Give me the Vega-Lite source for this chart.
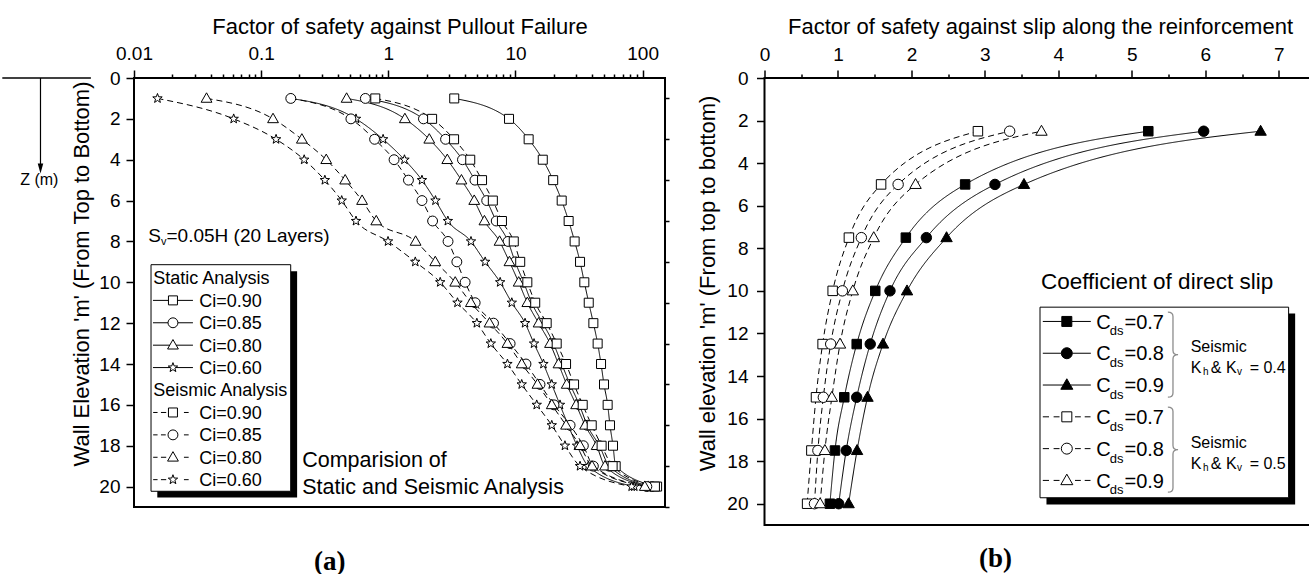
{
"$schema": "https://vega.github.io/schema/vega-lite/v6.json",
"padding": {"left": 0, "top": 14, "right": 0, "bottom": 0},
"spacing": 8.5,
"config": {
  "font": "Liberation Sans",
  "view": {"stroke": "black", "strokeWidth": 2},
  "axis": {"domain": false, "grid": false, "labelFlush": false, "labelOverlap": false, "tickColor": "black", "tickWidth": 1.5, "labelColor": "black", "titleColor": "black", "labelFont": "Liberation Sans", "titleFont": "Liberation Sans", "labelFontSize": 19, "titleFontSize": 22, "titleFontWeight": "normal"},
  "text": {"font": "Liberation Sans", "color": "black"}
},
"datasets": {
  "pullout": [
    {"a":"S","ci":"0.90","z":1,"fs":3.3},{"a":"S","ci":"0.90","z":2,"fs":8.9},{"a":"S","ci":"0.90","z":3,"fs":12.7},{"a":"S","ci":"0.90","z":4,"fs":16.4},{"a":"S","ci":"0.90","z":5,"fs":19.8},{"a":"S","ci":"0.90","z":6,"fs":23.1},{"a":"S","ci":"0.90","z":7,"fs":26.2},{"a":"S","ci":"0.90","z":8,"fs":29.2},{"a":"S","ci":"0.90","z":9,"fs":32.2},{"a":"S","ci":"0.90","z":10,"fs":34.8},{"a":"S","ci":"0.90","z":11,"fs":37.7},{"a":"S","ci":"0.90","z":12,"fs":41.0},{"a":"S","ci":"0.90","z":13,"fs":44.3},{"a":"S","ci":"0.90","z":14,"fs":47.1},{"a":"S","ci":"0.90","z":15,"fs":49.7},{"a":"S","ci":"0.90","z":16,"fs":53.1},{"a":"S","ci":"0.90","z":17,"fs":55.4},{"a":"S","ci":"0.90","z":18,"fs":58.5},{"a":"S","ci":"0.90","z":19,"fs":61.4},{"a":"S","ci":"0.90","z":20,"fs":130},
    {"a":"S","ci":"0.85","z":1,"fs":0.66},{"a":"S","ci":"0.85","z":2,"fs":1.89},{"a":"S","ci":"0.85","z":3,"fs":2.82},{"a":"S","ci":"0.85","z":4,"fs":3.83},{"a":"S","ci":"0.85","z":5,"fs":4.8},{"a":"S","ci":"0.85","z":6,"fs":5.94},{"a":"S","ci":"0.85","z":7,"fs":7.06},{"a":"S","ci":"0.85","z":8,"fs":8.74},{"a":"S","ci":"0.85","z":9,"fs":9.94},{"a":"S","ci":"0.85","z":10,"fs":11.6},{"a":"S","ci":"0.85","z":11,"fs":13.4},{"a":"S","ci":"0.85","z":12,"fs":16.4},{"a":"S","ci":"0.85","z":13,"fs":19.9},{"a":"S","ci":"0.85","z":14,"fs":23.1},{"a":"S","ci":"0.85","z":15,"fs":26.9},{"a":"S","ci":"0.85","z":16,"fs":31.8},{"a":"S","ci":"0.85","z":17,"fs":36.7},{"a":"S","ci":"0.85","z":18,"fs":45.7},{"a":"S","ci":"0.85","z":19,"fs":54.7},{"a":"S","ci":"0.85","z":20,"fs":118},
    {"a":"S","ci":"0.80","z":1,"fs":0.47},{"a":"S","ci":"0.80","z":2,"fs":1.35},{"a":"S","ci":"0.80","z":3,"fs":2.1},{"a":"S","ci":"0.80","z":4,"fs":2.91},{"a":"S","ci":"0.80","z":5,"fs":3.76},{"a":"S","ci":"0.80","z":6,"fs":4.74},{"a":"S","ci":"0.80","z":7,"fs":5.7},{"a":"S","ci":"0.80","z":8,"fs":7.5},{"a":"S","ci":"0.80","z":9,"fs":8.97},{"a":"S","ci":"0.80","z":10,"fs":10.6},{"a":"S","ci":"0.80","z":11,"fs":12.4},{"a":"S","ci":"0.80","z":12,"fs":15.2},{"a":"S","ci":"0.80","z":13,"fs":18.7},{"a":"S","ci":"0.80","z":14,"fs":21.8},{"a":"S","ci":"0.80","z":15,"fs":25.3},{"a":"S","ci":"0.80","z":16,"fs":30.0},{"a":"S","ci":"0.80","z":17,"fs":35.3},{"a":"S","ci":"0.80","z":18,"fs":43.5},{"a":"S","ci":"0.80","z":19,"fs":50.6},{"a":"S","ci":"0.80","z":20,"fs":111},
    {"a":"S","ci":"0.60","z":1,"fs":0.171},{"a":"S","ci":"0.60","z":2,"fs":0.557},{"a":"S","ci":"0.60","z":3,"fs":0.91},{"a":"S","ci":"0.60","z":4,"fs":1.34},{"a":"S","ci":"0.60","z":5,"fs":1.84},{"a":"S","ci":"0.60","z":6,"fs":2.35},{"a":"S","ci":"0.60","z":7,"fs":2.94},{"a":"S","ci":"0.60","z":8,"fs":4.47},{"a":"S","ci":"0.60","z":9,"fs":5.78},{"a":"S","ci":"0.60","z":10,"fs":7.58},{"a":"S","ci":"0.60","z":11,"fs":9.36},{"a":"S","ci":"0.60","z":12,"fs":11.9},{"a":"S","ci":"0.60","z":13,"fs":14.0},{"a":"S","ci":"0.60","z":14,"fs":16.6},{"a":"S","ci":"0.60","z":15,"fs":19.3},{"a":"S","ci":"0.60","z":16,"fs":22.4},{"a":"S","ci":"0.60","z":17,"fs":26.0},{"a":"S","ci":"0.60","z":18,"fs":30.5},{"a":"S","ci":"0.60","z":19,"fs":37.4},{"a":"S","ci":"0.60","z":20,"fs":86},
    {"a":"Q","ci":"0.90","z":1,"fs":0.79},{"a":"Q","ci":"0.90","z":2,"fs":2.21},{"a":"Q","ci":"0.90","z":3,"fs":3.29},{"a":"Q","ci":"0.90","z":4,"fs":4.41},{"a":"Q","ci":"0.90","z":5,"fs":5.46},{"a":"Q","ci":"0.90","z":6,"fs":6.64},{"a":"Q","ci":"0.90","z":7,"fs":7.83},{"a":"Q","ci":"0.90","z":8,"fs":9.7},{"a":"Q","ci":"0.90","z":9,"fs":10.9},{"a":"Q","ci":"0.90","z":10,"fs":12.4},{"a":"Q","ci":"0.90","z":11,"fs":14.3},{"a":"Q","ci":"0.90","z":12,"fs":17.6},{"a":"Q","ci":"0.90","z":13,"fs":21.1},{"a":"Q","ci":"0.90","z":14,"fs":25.0},{"a":"Q","ci":"0.90","z":15,"fs":28.9},{"a":"Q","ci":"0.90","z":16,"fs":33.8},{"a":"Q","ci":"0.90","z":17,"fs":39.8},{"a":"Q","ci":"0.90","z":18,"fs":47.6},{"a":"Q","ci":"0.90","z":19,"fs":58.1},{"a":"Q","ci":"0.90","z":20,"fs":125},
    {"a":"Q","ci":"0.85","z":1,"fs":0.171},{"a":"Q","ci":"0.85","z":2,"fs":0.508},{"a":"Q","ci":"0.85","z":3,"fs":0.78},{"a":"Q","ci":"0.85","z":4,"fs":1.11},{"a":"Q","ci":"0.85","z":5,"fs":1.44},{"a":"Q","ci":"0.85","z":6,"fs":1.84},{"a":"Q","ci":"0.85","z":7,"fs":2.23},{"a":"Q","ci":"0.85","z":8,"fs":2.95},{"a":"Q","ci":"0.85","z":9,"fs":3.46},{"a":"Q","ci":"0.85","z":10,"fs":4.02},{"a":"Q","ci":"0.85","z":11,"fs":4.82},{"a":"Q","ci":"0.85","z":12,"fs":6.72},{"a":"Q","ci":"0.85","z":13,"fs":9.08},{"a":"Q","ci":"0.85","z":14,"fs":12.1},{"a":"Q","ci":"0.85","z":15,"fs":15.6},{"a":"Q","ci":"0.85","z":16,"fs":20.1},{"a":"Q","ci":"0.85","z":17,"fs":26.9},{"a":"Q","ci":"0.85","z":18,"fs":34.2},{"a":"Q","ci":"0.85","z":19,"fs":41.0},{"a":"Q","ci":"0.85","z":20,"fs":108},
    {"a":"Q","ci":"0.80","z":1,"fs":0.0372},{"a":"Q","ci":"0.80","z":2,"fs":0.124},{"a":"Q","ci":"0.80","z":3,"fs":0.209},{"a":"Q","ci":"0.80","z":4,"fs":0.325},{"a":"Q","ci":"0.80","z":5,"fs":0.458},{"a":"Q","ci":"0.80","z":6,"fs":0.622},{"a":"Q","ci":"0.80","z":7,"fs":0.804},{"a":"Q","ci":"0.80","z":8,"fs":1.64},{"a":"Q","ci":"0.80","z":9,"fs":2.34},{"a":"Q","ci":"0.80","z":10,"fs":3.36},{"a":"Q","ci":"0.80","z":11,"fs":4.46},{"a":"Q","ci":"0.80","z":12,"fs":6.25},{"a":"Q","ci":"0.80","z":13,"fs":8.65},{"a":"Q","ci":"0.80","z":14,"fs":11.2},{"a":"Q","ci":"0.80","z":15,"fs":14.9},{"a":"Q","ci":"0.80","z":16,"fs":19.3},{"a":"Q","ci":"0.80","z":17,"fs":25.0},{"a":"Q","ci":"0.80","z":18,"fs":32.2},{"a":"Q","ci":"0.80","z":19,"fs":40.0},{"a":"Q","ci":"0.80","z":20,"fs":104},
    {"a":"Q","ci":"0.60","z":1,"fs":0.0153},{"a":"Q","ci":"0.60","z":2,"fs":0.0608},{"a":"Q","ci":"0.60","z":3,"fs":0.131},{"a":"Q","ci":"0.60","z":4,"fs":0.218},{"a":"Q","ci":"0.60","z":5,"fs":0.317},{"a":"Q","ci":"0.60","z":6,"fs":0.43},{"a":"Q","ci":"0.60","z":7,"fs":0.557},{"a":"Q","ci":"0.60","z":8,"fs":0.995},{"a":"Q","ci":"0.60","z":9,"fs":1.63},{"a":"Q","ci":"0.60","z":10,"fs":2.56},{"a":"Q","ci":"0.60","z":11,"fs":3.5},{"a":"Q","ci":"0.60","z":12,"fs":4.97},{"a":"Q","ci":"0.60","z":13,"fs":6.4},{"a":"Q","ci":"0.60","z":14,"fs":8.65},{"a":"Q","ci":"0.60","z":15,"fs":11.2},{"a":"Q","ci":"0.60","z":16,"fs":14.7},{"a":"Q","ci":"0.60","z":17,"fs":19.3},{"a":"Q","ci":"0.60","z":18,"fs":24.5},{"a":"Q","ci":"0.60","z":19,"fs":32.2},{"a":"Q","ci":"0.60","z":20,"fs":82}
  ],
  "slip": [
    {"k":"0.4","cds":"0.7","z":2.5,"fs":5.224},{"k":"0.4","cds":"0.7","z":5,"fs":2.731},{"k":"0.4","cds":"0.7","z":7.5,"fs":1.924},{"k":"0.4","cds":"0.7","z":10,"fs":1.508},{"k":"0.4","cds":"0.7","z":12.5,"fs":1.255},{"k":"0.4","cds":"0.7","z":15,"fs":1.086},{"k":"0.4","cds":"0.7","z":17.5,"fs":0.959},{"k":"0.4","cds":"0.7","z":20,"fs":0.89},
    {"k":"0.4","cds":"0.8","z":2.5,"fs":5.978},{"k":"0.4","cds":"0.8","z":5,"fs":3.137},{"k":"0.4","cds":"0.8","z":7.5,"fs":2.203},{"k":"0.4","cds":"0.8","z":10,"fs":1.708},{"k":"0.4","cds":"0.8","z":12.5,"fs":1.439},{"k":"0.4","cds":"0.8","z":15,"fs":1.255},{"k":"0.4","cds":"0.8","z":17.5,"fs":1.112},{"k":"0.4","cds":"0.8","z":20,"fs":1.01},
    {"k":"0.4","cds":"0.9","z":2.5,"fs":6.753},{"k":"0.4","cds":"0.9","z":5,"fs":3.532},{"k":"0.4","cds":"0.9","z":7.5,"fs":2.478},{"k":"0.4","cds":"0.9","z":10,"fs":1.94},{"k":"0.4","cds":"0.9","z":12.5,"fs":1.613},{"k":"0.4","cds":"0.9","z":15,"fs":1.402},{"k":"0.4","cds":"0.9","z":17.5,"fs":1.26},{"k":"0.4","cds":"0.9","z":20,"fs":1.145},
    {"k":"0.5","cds":"0.7","z":2.5,"fs":2.905},{"k":"0.5","cds":"0.7","z":5,"fs":1.587},{"k":"0.5","cds":"0.7","z":7.5,"fs":1.149},{"k":"0.5","cds":"0.7","z":10,"fs":0.928},{"k":"0.5","cds":"0.7","z":12.5,"fs":0.791},{"k":"0.5","cds":"0.7","z":15,"fs":0.701},{"k":"0.5","cds":"0.7","z":17.5,"fs":0.638},{"k":"0.5","cds":"0.7","z":20,"fs":0.58},
    {"k":"0.5","cds":"0.8","z":2.5,"fs":3.337},{"k":"0.5","cds":"0.8","z":5,"fs":1.819},{"k":"0.5","cds":"0.8","z":7.5,"fs":1.318},{"k":"0.5","cds":"0.8","z":10,"fs":1.06},{"k":"0.5","cds":"0.8","z":12.5,"fs":0.901},{"k":"0.5","cds":"0.8","z":15,"fs":0.801},{"k":"0.5","cds":"0.8","z":17.5,"fs":0.727},{"k":"0.5","cds":"0.8","z":20,"fs":0.68},
    {"k":"0.5","cds":"0.9","z":2.5,"fs":3.77},{"k":"0.5","cds":"0.9","z":5,"fs":2.056},{"k":"0.5","cds":"0.9","z":7.5,"fs":1.487},{"k":"0.5","cds":"0.9","z":10,"fs":1.202},{"k":"0.5","cds":"0.9","z":12.5,"fs":1.028},{"k":"0.5","cds":"0.9","z":15,"fs":0.917},{"k":"0.5","cds":"0.9","z":17.5,"fs":0.822},{"k":"0.5","cds":"0.9","z":20,"fs":0.757}
  ]
},
"hconcat": [
{
  "width": 531, "height": 429,
  "data": {"values": [{}]},
  "resolve": {"axis": {"x": "independent", "y": "independent"}},
  "layer": [
    {"data": {"name": "pullout"},
     "mark": {"type": "line", "interpolate": "monotone", "strokeWidth": 1, "color": "black"},
     "encoding": {
       "x": {"field": "fs", "type": "quantitative", "scale": {"type": "log", "domain": [0.01, 150], "nice": false},
             "axis": {"orient": "top", "values": [0.01, 0.1, 1, 10, 100], "format": "~g", "tickSize": 8, "labelPadding": 7, "title": "Factor of safety against Pullout Failure", "titleBaseline": "middle", "titleY": -51.5}},
       "y": {"field": "z", "type": "quantitative", "scale": {"domain": [0, 21], "reverse": true, "nice": false},
             "axis": {"values": [0,2,4,6,8,10,12,14,16,18,20], "tickSize": 8, "labelPadding": 6, "title": "Wall Elevation 'm' (From Top to Bottom)", "titleBaseline": "middle", "titleX": -53, "titleY": 195.5}},
       "detail": [{"field": "a"}, {"field": "ci"}],
       "strokeDash": {"field": "a", "type": "nominal", "scale": {"domain": ["S", "Q"], "range": [[1, 0], [6, 4]]}, "legend": null}
     }},
    {"data": {"name": "pullout"},
     "mark": {"type": "point", "filled": true, "fill": "white", "stroke": "black", "strokeWidth": 1, "size": 81, "opacity": 1},
     "encoding": {
       "x": {"field": "fs", "type": "quantitative", "axis": null},
       "y": {"field": "z", "type": "quantitative", "axis": null},
       "shape": {"field": "ci", "type": "nominal", "legend": null, "scale": {"domain": ["0.90", "0.85", "0.80", "0.60"], "range": ["M-1,-1H1V1H-1Z", "M1.1,0A1.1,1.1,0,1,1,-1.1,0A1.1,1.1,0,1,1,1.1,0Z", "M0,-1.25L1.2,0.85H-1.2Z", "M0,-1.1L0.265,-0.364L1.046,-0.34L0.428,0.139L0.647,0.89L0,0.45L-0.647,0.89L-0.428,0.139L-1.046,-0.34L-0.265,-0.364Z"]}}
     }},
    {"mark": {"type": "point", "opacity": 0},
     "encoding": {"x": {"datum": 1, "type": "quantitative", "axis": {"orient": "top", "values": [0.02,0.03,0.04,0.05,0.06,0.07,0.08,0.09,0.2,0.3,0.4,0.5,0.6,0.7,0.8,0.9,2,3,4,5,6,7,8,9,20,30,40,50,60,70,80,90], "tickSize": 4, "labels": false, "title": null}},
                  "y": {"datum": 1, "type": "quantitative", "axis": {"values": [1,3,5,7,9,11,13,15,17,19,21], "tickSize": 4, "labels": false, "title": null}}}},
    {"mark": {"type": "point", "opacity": 0},
     "encoding": {"x": {"datum": 1, "type": "quantitative", "axis": {"orient": "bottom", "ticks": false, "labels": false, "title": "(a)", "titleFont": "Liberation Serif", "titleFontWeight": "bold", "titleFontSize": 27, "titleBaseline": "middle", "titleX": 195.3, "titleY": 54}},
                  "y": {"datum": 1, "type": "quantitative", "axis": null}}},
    {"mark": {"type": "rule", "stroke": "black", "strokeWidth": 1.5},
     "encoding": {"x": {"datum": 0.000921, "type": "quantitative", "axis": null}, "x2": {"datum": 0.004581}, "y": {"datum": 0, "type": "quantitative", "axis": null}}},
    {"mark": {"type": "rule", "stroke": "black", "strokeWidth": 1.2},
     "encoding": {"x": {"datum": 0.001839, "type": "quantitative", "axis": null}, "y": {"datum": 0, "type": "quantitative", "axis": null}, "y2": {"datum": 4.3}}},
    {"mark": {"type": "point", "shape": "M-0.55,-1H0.55L0,1Z", "size": 100, "filled": true, "color": "black", "opacity": 1},
     "encoding": {"x": {"datum": 0.001839, "type": "quantitative", "axis": null}, "y": {"datum": 4.43, "type": "quantitative", "axis": null}}},
    {"mark": {"type": "text", "text": "Z (m)", "fontSize": 16, "align": "center", "baseline": "top"},
     "encoding": {"x": {"datum": 0.001799, "type": "quantitative", "axis": null}, "y": {"datum": 4.6, "type": "quantitative", "axis": null}}},
    {"mark": {"type": "text", "text": "S", "fontSize": 19, "align": "left", "baseline": "top"},
     "encoding": {"x": {"datum": 0.012957, "type": "quantitative", "axis": null}, "y": {"datum": 7.298, "type": "quantitative", "axis": null}}},
    {"mark": {"type": "text", "text": "v", "fontSize": 11, "align": "left", "baseline": "top"},
     "encoding": {"x": {"datum": 0.016307, "type": "quantitative", "axis": null}, "y": {"datum": 7.734, "type": "quantitative", "axis": null}}},
    {"mark": {"type": "text", "text": "=0.05H (20 Layers)", "fontSize": 19, "align": "left", "baseline": "top"},
     "encoding": {"x": {"datum": 0.018014, "type": "quantitative", "axis": null}, "y": {"datum": 7.298, "type": "quantitative", "axis": null}}},
    {"mark": {"type": "text", "text": ["Comparision of", "Static and Seismic Analysis"], "fontSize": 21.5, "lineHeight": 27, "align": "left", "baseline": "top"},
     "encoding": {"x": {"datum": 0.21025, "type": "quantitative", "axis": null}, "y": {"datum": 18.209, "type": "quantitative", "axis": null}}},
    {"mark": {"type": "rect", "color": "black", "opacity": 1},
     "encoding": {"x": {"datum": 0.01525, "type": "quantitative", "axis": null}, "x2": {"datum": 0.1918}, "y": {"datum": 9.46, "type": "quantitative", "axis": null}, "y2": {"datum": 20.54}}},
    {"mark": {"type": "rect", "fill": "white", "stroke": "black", "strokeWidth": 1, "opacity": 1},
     "encoding": {"x": {"datum": 0.01361, "type": "quantitative", "axis": null}, "x2": {"datum": 0.1708}, "y": {"datum": 9.139, "type": "quantitative", "axis": null}, "y2": {"datum": 20.23}}},
    {"mark": {"type": "point", "shape": "M-4.44,0H-1M1,0H4.44M-1,-1H1V1H-1Z", "size": 81, "filled": true, "fill": "white", "stroke": "black", "strokeWidth": 1, "opacity": 1},
     "encoding": {"x": {"datum": 0.02025, "type": "quantitative", "axis": null}, "y": {"datum": 10.886, "type": "quantitative", "axis": null}}},
    {"mark": {"type": "point", "shape": "M-4.44,0H-1.1M1.1,0H4.44M1.1,0A1.1,1.1,0,1,1,-1.1,0A1.1,1.1,0,1,1,1.1,0Z", "size": 81, "filled": true, "fill": "white", "stroke": "black", "strokeWidth": 1, "opacity": 1},
     "encoding": {"x": {"datum": 0.02025, "type": "quantitative", "axis": null}, "y": {"datum": 11.982, "type": "quantitative", "axis": null}}},
    {"mark": {"type": "point", "shape": "M-4.44,0H-0.71M0.71,0H4.44M0,-1.25L1.2,0.85H-1.2Z", "size": 81, "filled": true, "fill": "white", "stroke": "black", "strokeWidth": 1, "opacity": 1},
     "encoding": {"x": {"datum": 0.02025, "type": "quantitative", "axis": null}, "y": {"datum": 13.079, "type": "quantitative", "axis": null}}},
    {"mark": {"type": "point", "shape": "M-4.44,0H-0.61M0.61,0H4.44M0,-1.1L0.265,-0.364L1.046,-0.34L0.428,0.139L0.647,0.89L0,0.45L-0.647,0.89L-0.428,0.139L-1.046,-0.34L-0.265,-0.364Z", "size": 81, "filled": true, "fill": "white", "stroke": "black", "strokeWidth": 1, "opacity": 1},
     "encoding": {"x": {"datum": 0.02025, "type": "quantitative", "axis": null}, "y": {"datum": 14.175, "type": "quantitative", "axis": null}}},
    {"mark": {"type": "point", "shape": "M-4.4,0H-3.42M-2.67,0H-1.5M2.44,0H3.49M-1,-1H1V1H-1Z", "size": 81, "filled": true, "fill": "white", "stroke": "black", "strokeWidth": 1, "opacity": 1},
     "encoding": {"x": {"datum": 0.02025, "type": "quantitative", "axis": null}, "y": {"datum": 16.373, "type": "quantitative", "axis": null}}},
    {"mark": {"type": "point", "shape": "M-4.4,0H-3.42M-2.67,0H-1.6M2.44,0H3.49M1.1,0A1.1,1.1,0,1,1,-1.1,0A1.1,1.1,0,1,1,1.1,0Z", "size": 81, "filled": true, "fill": "white", "stroke": "black", "strokeWidth": 1, "opacity": 1},
     "encoding": {"x": {"datum": 0.02025, "type": "quantitative", "axis": null}, "y": {"datum": 17.469, "type": "quantitative", "axis": null}}},
    {"mark": {"type": "point", "shape": "M-4.4,0H-3.42M-2.67,0H-1.5M2.44,0H3.49M0,-1.25L1.2,0.85H-1.2Z", "size": 81, "filled": true, "fill": "white", "stroke": "black", "strokeWidth": 1, "opacity": 1},
     "encoding": {"x": {"datum": 0.02025, "type": "quantitative", "axis": null}, "y": {"datum": 18.566, "type": "quantitative", "axis": null}}},
    {"mark": {"type": "point", "shape": "M-4.4,0H-3.42M-2.67,0H-1.5M2.44,0H3.49M0,-1.1L0.265,-0.364L1.046,-0.34L0.428,0.139L0.647,0.89L0,0.45L-0.647,0.89L-0.428,0.139L-1.046,-0.34L-0.265,-0.364Z", "size": 81, "filled": true, "fill": "white", "stroke": "black", "strokeWidth": 1, "opacity": 1},
     "encoding": {"x": {"datum": 0.02025, "type": "quantitative", "axis": null}, "y": {"datum": 19.662, "type": "quantitative", "axis": null}}},
    {"mark": {"type": "text", "text": ["Ci=0.90", "Ci=0.85", "Ci=0.80", "Ci=0.60"], "fontSize": 18, "lineHeight": 22.41, "align": "left", "baseline": "top"},
     "encoding": {"x": {"datum": 0.03264, "type": "quantitative", "axis": null}, "y": {"datum": 10.516, "type": "quantitative", "axis": null}}},
    {"mark": {"type": "text", "text": ["Ci=0.90", "Ci=0.85", "Ci=0.80", "Ci=0.60"], "fontSize": 18, "lineHeight": 22.41, "align": "left", "baseline": "top"},
     "encoding": {"x": {"datum": 0.03264, "type": "quantitative", "axis": null}, "y": {"datum": 16.003, "type": "quantitative", "axis": null}}},
    {"mark": {"type": "text", "text": ["Static Analysis", "Seismic Analysis"], "fontSize": 18, "lineHeight": 112.05, "align": "left", "baseline": "top"},
     "encoding": {"x": {"datum": 0.01419, "type": "quantitative", "axis": null}, "y": {"datum": 9.42, "type": "quantitative", "axis": null}}}
  ]
},
{
  "width": 551, "height": 447,
  "data": {"values": [{}]},
  "resolve": {"axis": {"x": "independent", "y": "independent"}},
  "layer": [
    {"data": {"name": "slip"},
     "mark": {"type": "line", "interpolate": "monotone", "strokeWidth": 1, "color": "black"},
     "encoding": {
       "x": {"field": "fs", "type": "quantitative", "scale": {"domain": [0, 7.5], "nice": false},
             "axis": {"orient": "top", "values": [0,1,2,3,4,5,6,7], "tickSize": 8, "labelPadding": 6, "title": "Factor of safety against slip along the reinforcement", "titleBaseline": "middle", "titleY": -52}},
       "y": {"field": "z", "type": "quantitative", "scale": {"domain": [0, 21], "reverse": true, "nice": false},
             "axis": {"values": [0,2,4,6,8,10,12,14,16,18,20], "tickSize": 8, "labelPadding": 8.5, "title": "Wall elevation 'm' (From top to bottom)", "titleBaseline": "middle", "titleX": -57, "titleY": 205}},
       "detail": {"field": "cds"},
       "strokeDash": {"field": "k", "type": "nominal", "scale": {"domain": ["0.4", "0.5"], "range": [[1, 0], [4, 3]]}, "legend": null}
     }},
    {"data": {"name": "slip"},
     "mark": {"type": "point", "filled": true, "stroke": "black", "strokeWidth": 1, "size": 90, "opacity": 1},
     "encoding": {
       "x": {"field": "fs", "type": "quantitative", "axis": null},
       "y": {"field": "z", "type": "quantitative", "axis": null},
       "shape": {"field": "cds", "type": "nominal", "legend": null, "scale": {"domain": ["0.7", "0.8", "0.9"], "range": ["M-1,-1H1V1H-1Z", "M1.1,0A1.1,1.1,0,1,1,-1.1,0A1.1,1.1,0,1,1,1.1,0Z", "M0,-1.25L1.2,0.85H-1.2Z"]}},
       "fill": {"field": "k", "type": "nominal", "legend": null, "scale": {"domain": ["0.4", "0.5"], "range": ["black", "white"]}}
     }},
    {"mark": {"type": "point", "opacity": 0},
     "encoding": {"x": {"datum": 1, "type": "quantitative", "axis": {"orient": "top", "values": [0.5,1.5,2.5,3.5,4.5,5.5,6.5], "tickSize": 4, "labels": false, "title": null}},
                  "y": {"datum": 1, "type": "quantitative", "axis": {"values": [1,3,5,7,9,11,13,15,17,19,21], "tickSize": 4, "labels": false, "title": null}}}},
    {"mark": {"type": "point", "opacity": 0},
     "encoding": {"x": {"datum": 1, "type": "quantitative", "axis": {"orient": "bottom", "ticks": false, "labels": false, "title": "(b)", "titleFont": "Liberation Serif", "titleFontWeight": "bold", "titleFontSize": 27, "titleBaseline": "middle", "titleX": 230.5, "titleY": 33}},
                  "y": {"datum": 1, "type": "quantitative", "axis": null}}},
    {"mark": {"type": "rule", "strokeWidth": 1, "opacity": 0},
     "encoding": {"x": {"datum": -1.1406, "type": "quantitative", "axis": null}, "x2": {"datum": -1.1}, "y": {"datum": 10, "type": "quantitative", "axis": null}}},
    {"mark": {"type": "text", "text": "Coefficient of direct slip", "fontSize": 22.5, "align": "left", "baseline": "top"},
     "encoding": {"x": {"datum": 3.763, "type": "quantitative", "axis": null}, "y": {"datum": 9.046, "type": "quantitative", "axis": null}}},
    {"mark": {"type": "rect", "color": "black", "opacity": 1},
     "encoding": {"x": {"datum": 3.838, "type": "quantitative", "axis": null}, "x2": {"datum": 7.223}, "y": {"datum": 11.063, "type": "quantitative", "axis": null}, "y2": {"datum": 20.04}}},
    {"mark": {"type": "rect", "fill": "white", "stroke": "black", "strokeWidth": 1, "opacity": 1},
     "encoding": {"x": {"datum": 3.75, "type": "quantitative", "axis": null}, "x2": {"datum": 7.134}, "y": {"datum": 10.766, "type": "quantitative", "axis": null}, "y2": {"datum": 19.72}}},
    {"mark": {"type": "point", "shape": "M-4.8,0H-1M1,0H4.8M-1,-1H1V1H-1Z", "size": 100, "filled": true, "fill": "black", "stroke": "black", "strokeWidth": 1, "opacity": 1},
     "encoding": {"x": {"datum": 4.115, "type": "quantitative", "axis": null}, "y": {"datum": 11.437, "type": "quantitative", "axis": null}}},
    {"mark": {"type": "point", "shape": "M-4.8,0H-1.1M1.1,0H4.8M1.1,0A1.1,1.1,0,1,1,-1.1,0A1.1,1.1,0,1,1,1.1,0Z", "size": 100, "filled": true, "fill": "black", "stroke": "black", "strokeWidth": 1, "opacity": 1},
     "encoding": {"x": {"datum": 4.115, "type": "quantitative", "axis": null}, "y": {"datum": 12.931, "type": "quantitative", "axis": null}}},
    {"mark": {"type": "point", "shape": "M-4.8,0H-0.71M0.71,0H4.8M0,-1.25L1.2,0.85H-1.2Z", "size": 100, "filled": true, "fill": "black", "stroke": "black", "strokeWidth": 1, "opacity": 1},
     "encoding": {"x": {"datum": 4.115, "type": "quantitative", "axis": null}, "y": {"datum": 14.424, "type": "quantitative", "axis": null}}},
    {"mark": {"type": "point", "shape": "M-4.8,0H-3.56M-2.64,0H-1.46M1.64,0H2.8M3.58,0H4.74M-1,-1H1V1H-1Z", "size": 100, "filled": true, "fill": "white", "stroke": "black", "strokeWidth": 1, "opacity": 1},
     "encoding": {"x": {"datum": 4.115, "type": "quantitative", "axis": null}, "y": {"datum": 15.918, "type": "quantitative", "axis": null}}},
    {"mark": {"type": "point", "shape": "M-4.8,0H-3.56M-2.64,0H-1.46M1.64,0H2.8M3.58,0H4.74M1.1,0A1.1,1.1,0,1,1,-1.1,0A1.1,1.1,0,1,1,1.1,0Z", "size": 100, "filled": true, "fill": "white", "stroke": "black", "strokeWidth": 1, "opacity": 1},
     "encoding": {"x": {"datum": 4.115, "type": "quantitative", "axis": null}, "y": {"datum": 17.412, "type": "quantitative", "axis": null}}},
    {"mark": {"type": "point", "shape": "M-4.8,0H-3.56M-2.64,0H-1.46M1.64,0H2.8M3.58,0H4.74M0,-1.25L1.2,0.85H-1.2Z", "size": 100, "filled": true, "fill": "white", "stroke": "black", "strokeWidth": 1, "opacity": 1},
     "encoding": {"x": {"datum": 4.115, "type": "quantitative", "axis": null}, "y": {"datum": 18.905, "type": "quantitative", "axis": null}}},
    {"mark": {"type": "text", "text": ["C", "C", "C", "C", "C", "C"], "fontSize": 20, "lineHeight": 31.8, "align": "left", "baseline": "top"},
     "encoding": {"x": {"datum": 4.516, "type": "quantitative", "axis": null}, "y": {"datum": 11.025, "type": "quantitative", "axis": null}}},
    {"mark": {"type": "text", "text": ["ds", "ds", "ds", "ds", "ds", "ds"], "fontSize": 13, "lineHeight": 31.8, "align": "left", "baseline": "top"},
     "encoding": {"x": {"datum": 4.7, "type": "quantitative", "axis": null}, "y": {"datum": 11.627, "type": "quantitative", "axis": null}}},
    {"mark": {"type": "text", "text": ["=0.7", "=0.8", "=0.9", "=0.7", "=0.8", "=0.9"], "fontSize": 20, "lineHeight": 31.8, "align": "left", "baseline": "top"},
     "encoding": {"x": {"datum": 4.9, "type": "quantitative", "axis": null}, "y": {"datum": 11.025, "type": "quantitative", "axis": null}}},
    {"mark": {"type": "point", "shape": "M-0.12,-1Q0,-1,0,-0.9L0,-0.1Q0,0,0.12,0Q0,0,0,0.1L0,0.9Q0,1,-0.12,1", "size": 7225, "filled": false, "color": "#8c8c8c", "strokeWidth": 1.3, "opacity": 1},
     "encoding": {"x": {"datum": 5.56, "type": "quantitative", "axis": null}, "y": {"datum": 12.999, "type": "quantitative", "axis": null}}},
    {"mark": {"type": "point", "shape": "M-0.12,-1Q0,-1,0,-0.9L0,-0.1Q0,0,0.12,0Q0,0,0,0.1L0,0.9Q0,1,-0.12,1", "size": 7225, "filled": false, "color": "#8c8c8c", "strokeWidth": 1.3, "opacity": 1},
     "encoding": {"x": {"datum": 5.56, "type": "quantitative", "axis": null}, "y": {"datum": 17.462, "type": "quantitative", "axis": null}}},
    {"mark": {"type": "text", "text": ["Seismic", "Seismic"], "fontSize": 16, "lineHeight": 96, "align": "left", "baseline": "top"},
     "encoding": {"x": {"datum": 5.801, "type": "quantitative", "axis": null}, "y": {"datum": 12.258, "type": "quantitative", "axis": null}}},
    {"mark": {"type": "text", "text": ["K", "K"], "fontSize": 16, "lineHeight": 96, "align": "left", "baseline": "top"},
     "encoding": {"x": {"datum": 5.801, "type": "quantitative", "axis": null}, "y": {"datum": 13.245, "type": "quantitative", "axis": null}}},
    {"mark": {"type": "text", "text": ["h", "h"], "fontSize": 10, "lineHeight": 96, "align": "left", "baseline": "top"},
     "encoding": {"x": {"datum": 5.968, "type": "quantitative", "axis": null}, "y": {"datum": 13.6, "type": "quantitative", "axis": null}}},
    {"mark": {"type": "text", "text": ["& K", "& K"], "fontSize": 16, "lineHeight": 96, "align": "left", "baseline": "top"},
     "encoding": {"x": {"datum": 6.075, "type": "quantitative", "axis": null}, "y": {"datum": 13.245, "type": "quantitative", "axis": null}}},
    {"mark": {"type": "text", "text": ["v", "v"], "fontSize": 10, "lineHeight": 96, "align": "left", "baseline": "top"},
     "encoding": {"x": {"datum": 6.431, "type": "quantitative", "axis": null}, "y": {"datum": 13.6, "type": "quantitative", "axis": null}}},
    {"mark": {"type": "text", "text": ["= 0.4", "= 0.5"], "fontSize": 16, "lineHeight": 96, "align": "left", "baseline": "top"},
     "encoding": {"x": {"datum": 6.604, "type": "quantitative", "axis": null}, "y": {"datum": 13.245, "type": "quantitative", "axis": null}}}
  ]
}
]
}
